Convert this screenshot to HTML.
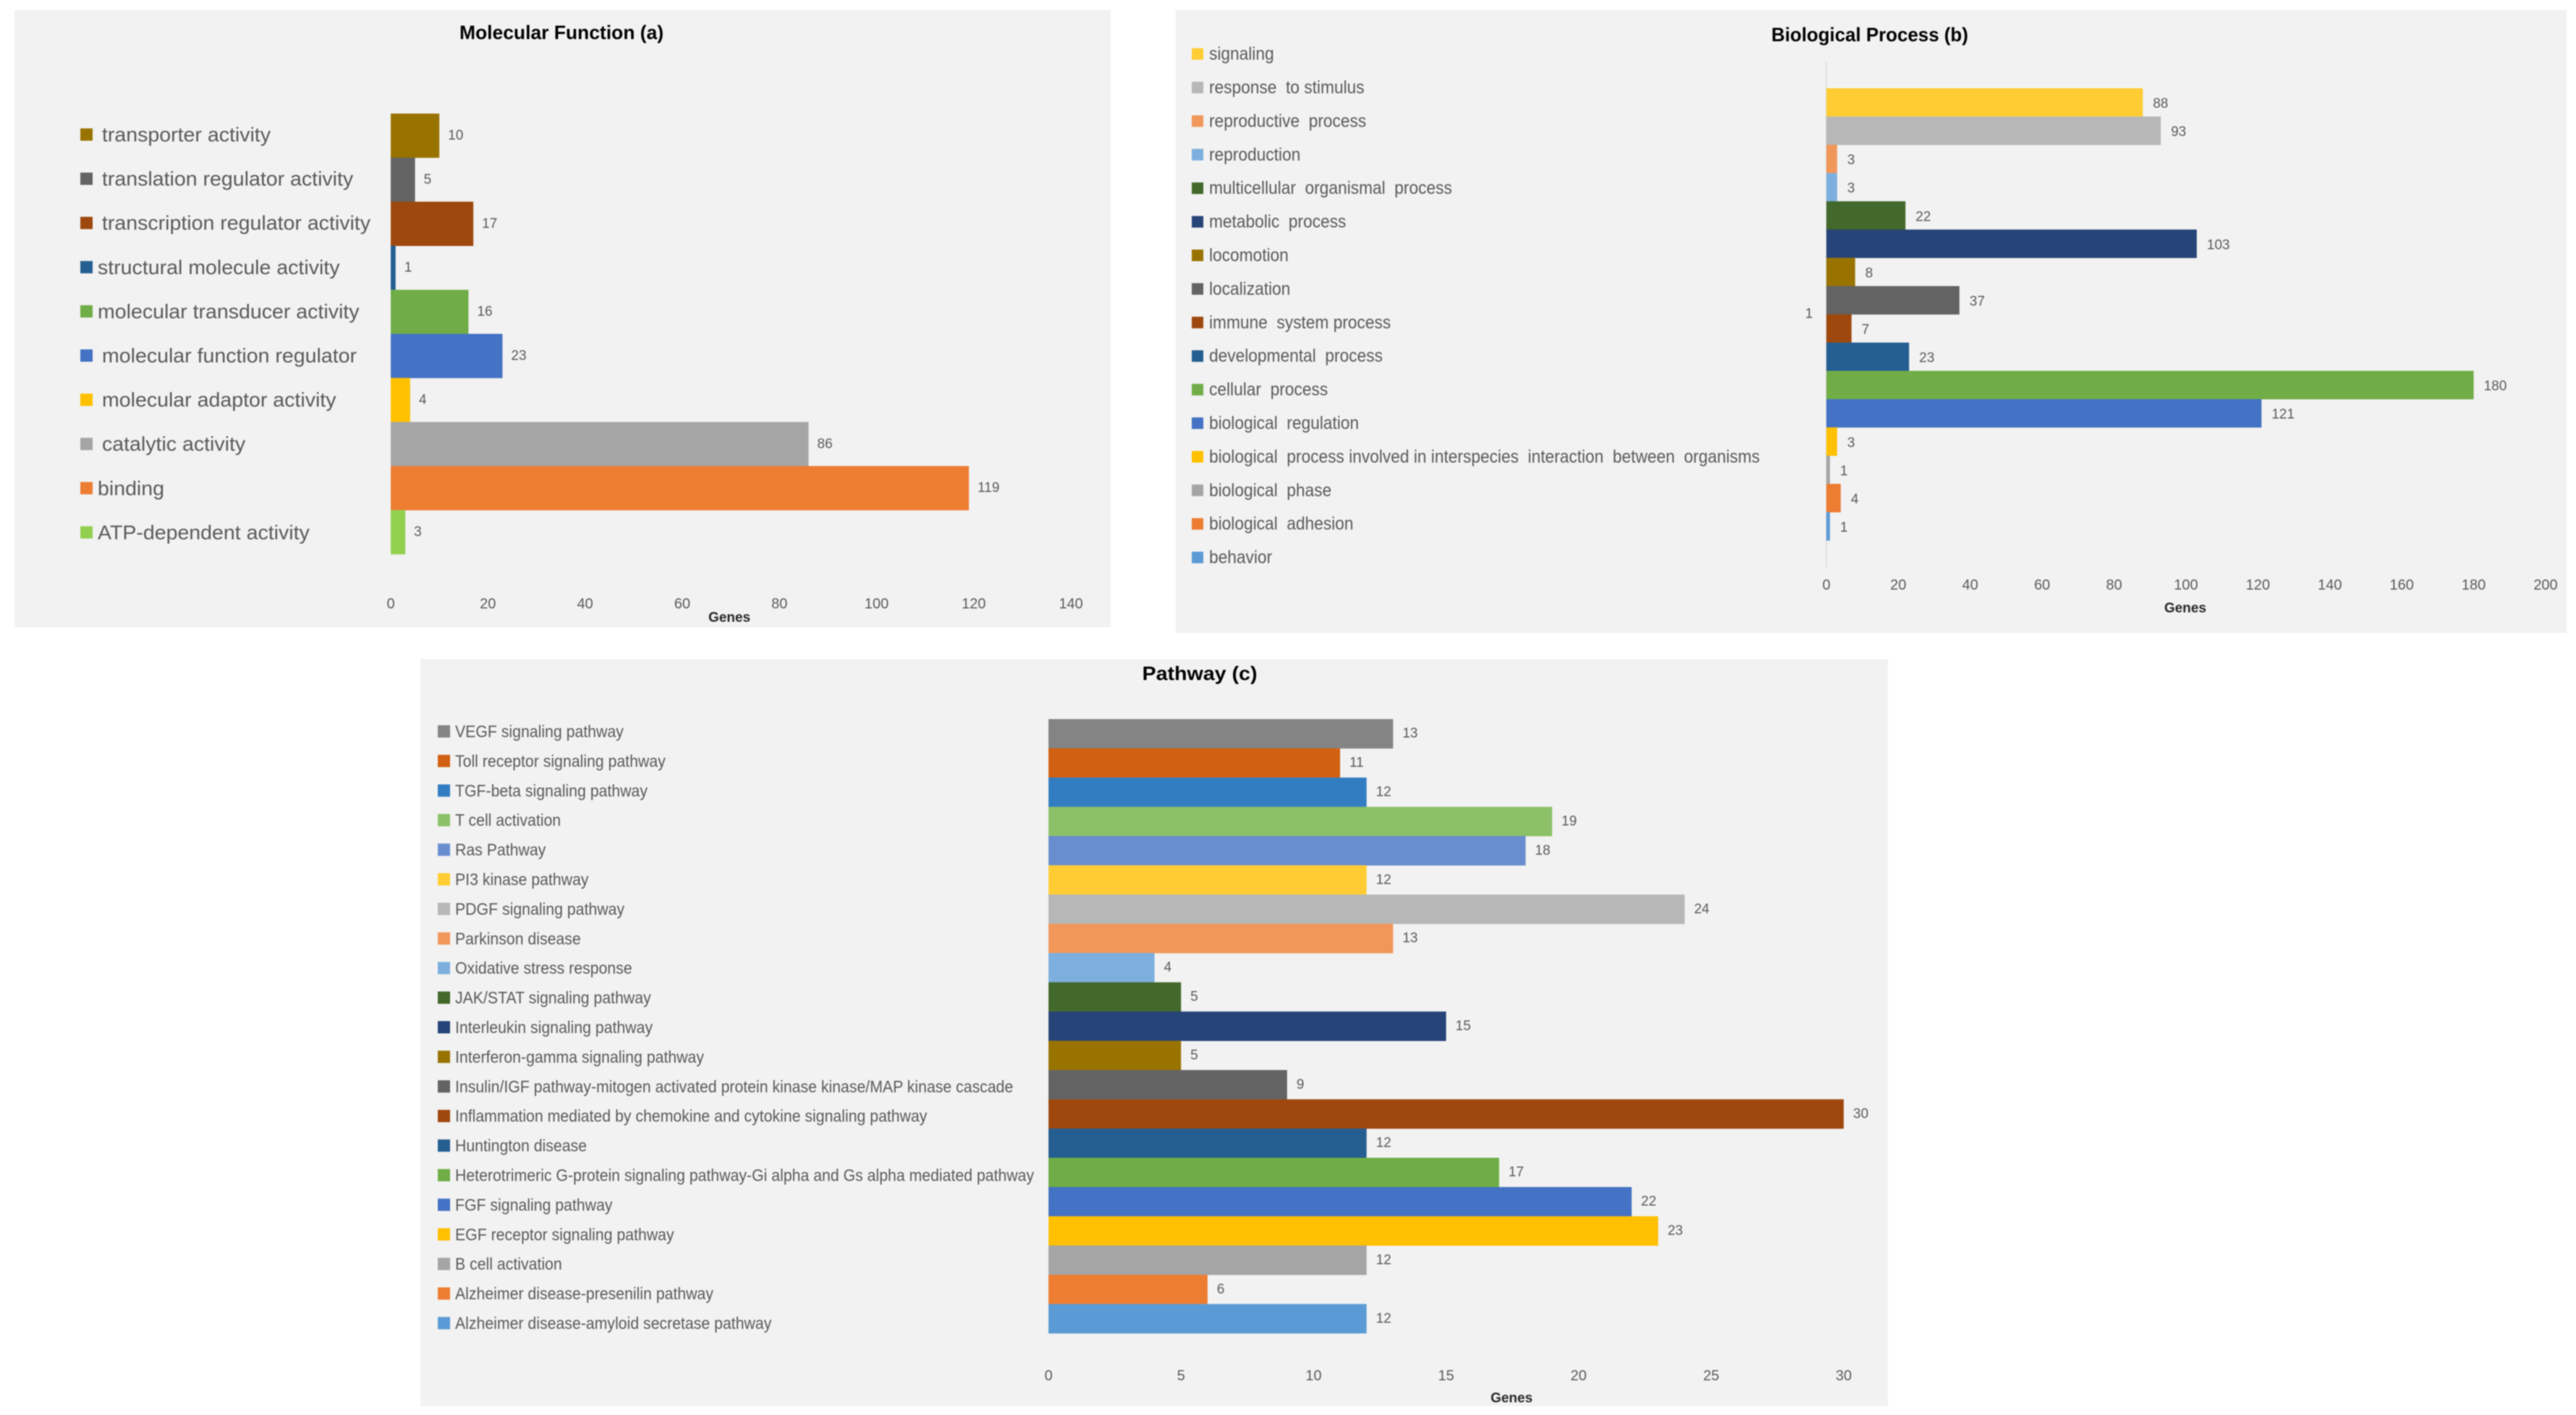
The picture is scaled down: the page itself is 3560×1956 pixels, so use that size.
<!DOCTYPE html>
<html lang="en">
<head>
<meta charset="utf-8">
<title>Gene ontology bar charts</title>
<style>
  html, body { margin: 0; padding: 0; background: #ffffff; }
  #figure { display: block; width: 3560px; height: 1956px; filter: blur(0.7px); font-family: "Liberation Sans", sans-serif; }
</style>
</head>
<body>
<svg id="figure" xmlns="http://www.w3.org/2000/svg" width="3560" height="1956" viewBox="0 0 3560 1956"></svg>
<script>
// ---- Chart data ----
const mfCategories = ["transporter activity","translation regulator activity","transcription regulator activity","structural molecule activity","molecular transducer activity","molecular function regulator","molecular adaptor activity","catalytic activity","binding","ATP-dependent activity"];
const mfValues = [10,5,17,1,16,23,4,86,119,3];
const mfTicks = [0,20,40,60,80,100,120,140];

const bpCategories = ["signaling","response  to stimulus","reproductive  process","reproduction","multicellular  organismal  process","metabolic  process","locomotion","localization","immune  system process","developmental  process","cellular  process","biological  regulation","biological  process involved in interspecies  interaction  between  organisms","biological  phase","biological  adhesion","behavior"];
const bpValues = [88,93,3,3,22,103,8,37,7,23,180,121,3,1,4,1];
const bpTicks = [0,20,40,60,80,100,120,140,160,180,200];

const pwCategories = ["VEGF signaling pathway","Toll receptor signaling pathway","TGF-beta signaling pathway","T cell activation","Ras Pathway","PI3 kinase pathway","PDGF signaling pathway","Parkinson disease","Oxidative stress response","JAK/STAT signaling pathway","Interleukin signaling pathway","Interferon-gamma signaling pathway","Insulin/IGF pathway-mitogen activated protein kinase kinase/MAP kinase cascade","Inflammation mediated by chemokine and cytokine signaling pathway","Huntington disease","Heterotrimeric G-protein signaling pathway-Gi alpha and Gs alpha mediated pathway","FGF signaling pathway","EGF receptor signaling pathway","B cell activation","Alzheimer disease-presenilin pathway","Alzheimer disease-amyloid secretase pathway"];
const pwValues = [13,11,12,19,18,12,24,13,4,5,15,5,9,30,12,17,22,23,12,6,12];
const pwTicks = [0,5,10,15,20,25,30];

// ---- Palettes ----
const mfColors = ["#997300","#636363","#9e480e","#255e91","#70ad47","#4472c4","#ffc000","#a5a5a5","#ed7d31","#92d050"];
const bpColors = ["#ffcd33","#b7b7b7","#f1975a","#7cafdd","#43682b","#264478","#997300","#636363","#9e480e","#255e91","#70ad47","#4472c4","#ffc000","#a5a5a5","#ed7d31","#5b9bd5"];
const pwColors = ["#848484","#d26012","#327dc2","#8cc168","#698ed0","#ffcd33","#b7b7b7","#f1975a","#7cafdd","#43682b","#264478","#997300","#636363","#9e480e","#255e91","#70ad47","#4472c4","#ffc000","#a5a5a5","#ed7d31","#5b9bd5"];

const SVG_NS = "http://www.w3.org/2000/svg";
const figure = document.getElementById("figure");

function make(parent, tag, attrs, text) {
  const node = document.createElementNS(SVG_NS, tag);
  for (const key in attrs) node.setAttribute(key, attrs[key]);
  if (text !== undefined) {
    node.setAttribute("xml:space", "preserve");
    node.style.whiteSpace = "pre";
    node.textContent = text;
  }
  parent.appendChild(node);
  return node;
}

function slug(text) {
  return text.toLowerCase().replace(/[^a-z0-9]+/g, "-").replace(/^-|-$/g, "");
}

function drawChart(cfg) {
  const group = make(figure, "g", {});
  
  

  const panel = make(group, "rect", { x: cfg.panel[0], y: cfg.panel[1], width: cfg.panel[2], height: cfg.panel[3], fill: "#f2f2f2" });
  
  

  const title = make(group, "text", { x: cfg.titleX, y: cfg.titleY, "text-anchor": "middle", "dominant-baseline": "central", "font-size": 27, "font-weight": "bold", fill: "#000000", textLength: cfg.titleWidth, lengthAdjust: "spacingAndGlyphs" }, cfg.title);
  
  

  const maxTick = cfg.ticks[cfg.ticks.length - 1];
  const xScale = v => cfg.x0 + (v / maxTick) * (cfg.x1 - cfg.x0);
  const band = (cfg.barBottom - cfg.barTop) / cfg.categories.length;
  const yScale = i => cfg.barTop + i * band;

  if (cfg.axisLine) {
    const axis = make(group, "line", { x1: cfg.x0, x2: cfg.x0, y1: cfg.axisLine[0], y2: cfg.axisLine[1], stroke: "#d9d9d9", "stroke-width": 1.5 });
    
    
  }

  cfg.values.forEach((value, i) => {
    const bar = make(group, "rect", { x: xScale(0), y: yScale(i), width: xScale(value) - xScale(0), height: band + 0.3, fill: cfg.colors[i] });
    
    

    const label = make(group, "text", { x: xScale(value) + cfg.labelGap, y: yScale(i) + band / 2 + cfg.labelShift, "dominant-baseline": "central", "font-size": 19, fill: "#595959" }, String(value));
    
    
  });

  const legendTexts = [];
  cfg.categories.forEach((name, i) => {
    const cy = cfg.legendTop + i * cfg.legendStep;
    const marker = make(group, "rect", { x: cfg.markerX, y: cy - cfg.markerSize / 2, width: cfg.markerSize, height: cfg.markerSize, fill: cfg.colors[i] });
    
    

    const entry = make(group, "text", { x: cfg.legendTextX(i), y: cy, "dominant-baseline": "central", "font-size": cfg.legendFont, fill: "#595959" }, name);
    
    
    legendTexts.push(entry);
  });

  // Condense legend text so the longest entry matches the measured width.
  const longest = Math.max(...legendTexts.map(t => t.getComputedTextLength()));
  const squeeze = cfg.legendWidth / longest;
  legendTexts.forEach(t => {
    t.setAttribute("textLength", (t.getComputedTextLength() * squeeze).toFixed(1));
    t.setAttribute("lengthAdjust", "spacingAndGlyphs");
  });

  cfg.ticks.forEach(tickValue => {
    const tick = make(group, "text", { x: xScale(tickValue), y: cfg.tickY, "text-anchor": "middle", "dominant-baseline": "central", "font-size": 20, fill: "#595959" }, String(tickValue));
    
    
  });

  const axisTitle = make(group, "text", { x: cfg.genesX, y: cfg.genesY, "text-anchor": "middle", "dominant-baseline": "central", "font-size": 19, "font-weight": "bold", fill: "#262626" }, "Genes");
  
  

  return group;
}

drawChart({
  key: "molecular-function", title: "Molecular Function (a)", titleX: 776, titleY: 45, titleWidth: 282,
  panel: [20, 14, 1515, 853],
  categories: mfCategories, values: mfValues, ticks: mfTicks, colors: mfColors,
  x0: 540, x1: 1480, barTop: 157, barBottom: 766, labelGap: 12, labelShift: 0,
  tickY: 835, genesX: 1008, genesY: 854,
  markerX: 111, markerSize: 17, legendTop: 186, legendStep: 61.1, legendFont: 28, legendWidth: 371,
  legendTextX: i => ([3, 4, 8, 9].includes(i) ? 135 : 141)
});

const bpGroup = drawChart({
  key: "biological-process", title: "Biological Process (b)", titleX: 2584, titleY: 48, titleWidth: 272,
  panel: [1625, 14, 1922, 861],
  categories: bpCategories, values: bpValues, ticks: bpTicks, colors: bpColors,
  x0: 2524, x1: 3518, barTop: 122, barBottom: 747, labelGap: 14, labelShift: 2, axisLine: [86, 784],
  tickY: 809, genesX: 3020, genesY: 841,
  markerX: 1647, markerSize: 16, legendTop: 74.6, legendStep: 46.4, legendFont: 25, legendWidth: 761,
  legendTextX: () => 1671
});

const strayLabel = make(bpGroup, "text", { x: 2500, y: 434, "text-anchor": "middle", "dominant-baseline": "central", "font-size": 19, fill: "#595959" }, "1");



drawChart({
  key: "pathway", title: "Pathway (c)", titleX: 1658, titleY: 931, titleWidth: 159,
  panel: [581, 911, 2028, 1033],
  categories: pwCategories, values: pwValues, ticks: pwTicks, colors: pwColors,
  x0: 1449, x1: 2548, barTop: 994, barBottom: 1843, labelGap: 13, labelShift: 0,
  tickY: 1902, genesX: 2089, genesY: 1933,
  markerX: 605, markerSize: 17, legendTop: 1011, legendStep: 40.9, legendFont: 23, legendWidth: 800,
  legendTextX: () => 629
});
</script>
</body>
</html>
